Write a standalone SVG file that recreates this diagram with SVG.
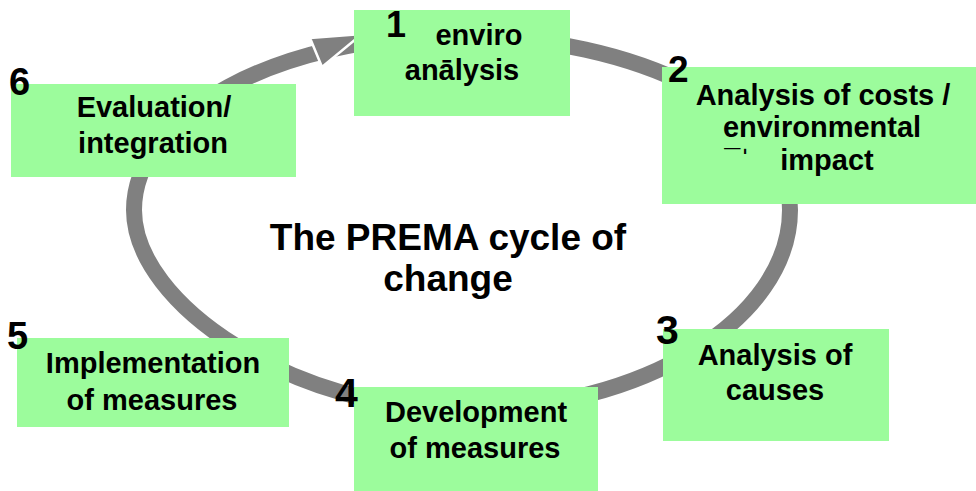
<svg xmlns="http://www.w3.org/2000/svg" width="976" height="491" viewBox="0 0 976 491">
<style>
.box{fill:#9cfc9c;}
.t{font-family:"Liberation Sans",Arial,sans-serif;font-weight:bold;font-size:29px;fill:#000;text-anchor:middle;}
.n{font-family:"Liberation Sans",Arial,sans-serif;font-weight:bold;fill:#000;}
.title{font-family:"Liberation Sans",Arial,sans-serif;font-weight:bold;font-size:37px;fill:#000;text-anchor:middle;}
.ring{fill:none;stroke:#808080;stroke-width:16;}
.head{fill:#808080;stroke:#fff;stroke-width:2.5;stroke-linejoin:miter;}
</style>
<rect width="976" height="491" fill="#fff"/>
<g id="connectors">
<path class="ring" d="M 455 36 C 640 36, 790 114, 790 210 C 790 319, 643 410, 462 410 C 295 410, 134 305, 134 210 C 134 114, 278 36, 455 36 Z"/>
<polygon class="head" points="310,38 362,34 322,67"/>
</g>
<g id="node1">
<rect class="box" x="354" y="10" width="216" height="106"/>
<text class="n" x="386" y="37" font-size="36">1</text>
<text class="t" x="479" y="45">enviro</text>
<text class="t" x="462" y="80">anālysis</text>
</g>
<g id="node2">
<rect class="box" x="662" y="67" width="314" height="137"/>
<text class="n" x="668" y="82" font-size="37">2</text>
<text class="t" x="823" y="105">Analysis of costs /</text>
<text class="t" x="822" y="137">environmental</text>
<text class="t" x="737" y="170">¯ˈ</text>
<text class="t" x="827" y="170">impact</text>
</g>
<g id="node3">
<rect class="box" x="663" y="329" width="226" height="112"/>
<text class="n" x="656" y="344" font-size="41">3</text>
<text class="t" x="775" y="365">Analysis of</text>
<text class="t" x="775" y="400">causes</text>
</g>
<g id="node4">
<rect class="box" x="354" y="387" width="244" height="104"/>
<text class="n" x="335" y="407" font-size="41">4</text>
<text class="t" x="476" y="422">Development</text>
<text class="t" x="475" y="458">of measures</text>
</g>
<g id="node5">
<rect class="box" x="17" y="338" width="272" height="89"/>
<text class="n" x="7" y="349" font-size="38">5</text>
<text class="t" x="153" y="373">Implementation</text>
<text class="t" x="152" y="410">of measures</text>
</g>
<g id="node6">
<rect class="box" x="11" y="84" width="285" height="93"/>
<text class="n" x="9" y="95" font-size="38">6</text>
<text class="t" x="154" y="117">Evaluation/</text>
<text class="t" x="153" y="153">integration</text>
</g>
<g id="title">
<text class="title" x="448" y="250">The PREMA cycle of</text>
<text class="title" x="448" y="291">change</text>
</g>
</svg>
